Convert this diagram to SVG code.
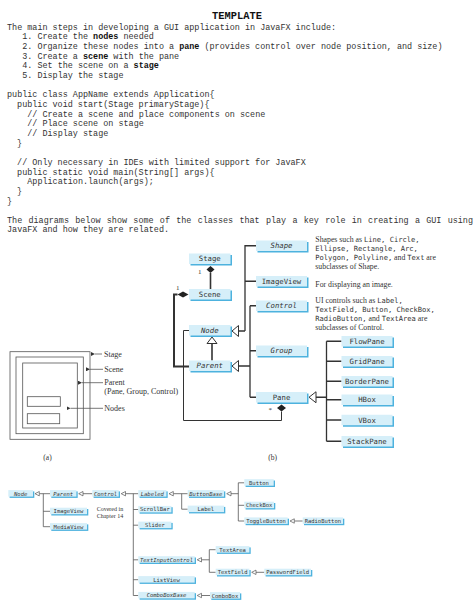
<svg xmlns="http://www.w3.org/2000/svg" width="474" height="613" viewBox="0 0 474 613">
<style>
.code{font-family:"Liberation Mono","Courier New",monospace;font-size:8.45px;fill:#333}
.b{font-weight:bold;fill:#111}
.ser{font-family:"Liberation Serif","Times New Roman",serif;fill:#333}
.mono{font-family:"DejaVu Sans Mono","Liberation Mono",monospace;fill:#333}
.bx{fill:#d6eff9}
.sh{fill:#4db2de}
.lbl{font-family:"DejaVu Sans Mono","Liberation Mono",monospace;font-size:7.3px;fill:#333;text-anchor:middle}
.sl{font-family:"DejaVu Sans Mono","Liberation Mono",monospace;font-size:5.5px;fill:#333;text-anchor:middle}
.it{font-style:italic}
.ln{fill:none;stroke:#333;stroke-width:1.3}
.ln2{fill:none;stroke:#555;stroke-width:0.8}
.tri{fill:#fff;stroke:#333;stroke-width:1}
.tri2{fill:#fff;stroke:#555;stroke-width:0.7}
.fr{fill:none;stroke:#555;stroke-width:0.8}
</style>
<defs>
<marker id="ah" viewBox="0 0 6 6" refX="0" refY="3" markerWidth="4" markerHeight="4" orient="auto-start-reverse" markerUnits="userSpaceOnUse"><path d="M0,3 L6,0 L6,6 Z" fill="#333"/></marker>
</defs>
<rect width="474" height="613" fill="#fff"/>

<!-- Template text -->
<g id="template">
<text x="237" y="19.3" text-anchor="middle" class="code b" style="font-size:10.4px">TEMPLATE</text>
<text x="7" y="29.8" class="code">The main steps in developing a GUI application in JavaFX include:</text>
<text x="22.2" y="39.45" class="code">1. Create the <tspan class="b">nodes</tspan> needed</text>
<text x="22.2" y="49.1" class="code">2. Organize these nodes into a <tspan class="b">pane</tspan> (provides control over node position, and size)</text>
<text x="22.2" y="58.75" class="code">3. Create a <tspan class="b">scene</tspan> with the pane</text>
<text x="22.2" y="68.4" class="code">4. Set the scene on a <tspan class="b">stage</tspan></text>
<text x="22.2" y="78.05" class="code">5. Display the stage</text>
<text x="7" y="97.35" class="code">public class AppName extends Application{</text>
<text x="17.1" y="107" class="code">public void start(Stage primaryStage){</text>
<text x="27.3" y="116.65" class="code">// Create a scene and place components on scene</text>
<text x="27.3" y="126.3" class="code">// Place scene on stage</text>
<text x="27.3" y="135.95" class="code">// Display stage</text>
<text x="17.1" y="145.6" class="code">}</text>
<text x="17.1" y="164.9" class="code">// Only necessary in IDEs with limited support for JavaFX</text>
<text x="17.1" y="174.55" class="code">public static void main(String[] args){</text>
<text x="27.3" y="184.2" class="code">Application.launch(args);</text>
<text x="17.1" y="193.85" class="code">}</text>
<text x="7" y="203.5" class="code">}</text>
<text x="7" y="222.8" class="code" word-spacing="1.2">The diagrams below show some of the classes that play a key role in creating a GUI using</text>
<text x="7" y="232.45" class="code">JavaFX and how they are related.</text>
</g>

<!-- Diagram (a) -->
<g id="diagram-a">
<rect x="10" y="351.7" width="80" height="87.6" class="fr"/>
<rect x="16" y="357" width="67.3" height="76.7" class="fr"/>
<rect x="22.7" y="363" width="54.6" height="65" class="fr"/>
<rect x="27.3" y="396.7" width="33" height="9.6" class="fr"/>
<rect x="27.3" y="413.7" width="32.4" height="10" class="fr"/>
<g class="ln2">
<line x1="102" y1="354" x2="95" y2="354" marker-end="url(#ah)"/>
<line x1="103" y1="369.3" x2="90" y2="369.3" marker-end="url(#ah)"/>
<line x1="103" y1="382.7" x2="82" y2="382.7" marker-end="url(#ah)"/>
<line x1="103" y1="408.3" x2="70.5" y2="408.3" marker-end="url(#ah)"/>
</g>
<text x="104" y="356.6" class="ser" style="font-size:8px">Stage</text>
<text x="104.3" y="371.9" class="ser" style="font-size:8px">Scene</text>
<text x="104.3" y="385.3" class="ser" style="font-size:8px">Parent</text>
<text x="104.3" y="394.3" class="ser" style="font-size:8px">(Pane, Group, Control)</text>
<text x="104.3" y="410.9" class="ser" style="font-size:8px">Nodes</text>
<text x="47.5" y="460" class="ser" style="font-size:7.5px" text-anchor="middle">(a)</text>
</g>

<!-- Diagram (b) connectors -->
<g id="connectors-b">
<path d="M210.5,273 V289" class="ln" style="stroke-width:1.6"/>
<path d="M210.5,266 L214.5,269.5 L210.5,273 L206.5,269.5 Z" fill="#222"/>
<path d="M177.5,294.5 H174 V366.5 H189" class="ln" style="stroke-width:2"/>
<path d="M188.5,294.5 L183,291.5 L177.5,294.5 L183,297.5 Z" fill="#222"/>
<path d="M189,330.5 H183.5 V420.5 H281.5 V411.5" class="ln" style="stroke-width:1"/>
<path d="M281.5,404.5 L286,408 L281.5,411.5 L277,408 Z" fill="#222"/>
<path d="M212,343.5 V360.5" class="ln" style="stroke-width:1.6"/>
<path d="M212,337 L217,343.5 L207,343.5 Z" class="tri"/>
<path d="M238.5,331 H245 M245,331 V245.75 H256 M245,281.25 H256" class="ln"/>
<path d="M232,331 L238.5,325.5 L238.5,336.5 Z" class="tri"/>
<path d="M238.5,366 H250 M250,305.75 V397.25 M250,305.75 H256 M250,350.75 H256 M250,397.25 H256" class="ln"/>
<path d="M232,366 L238.5,360.5 L238.5,371.5 Z" class="tri"/>
<path d="M316,397.25 H326.5 M326.5,341.25 V441.25 M326.5,341.25 H341.5 M326.5,361.25 H341.5 M326.5,381.25 H341.5 M326.5,399.75 H341.5 M326.5,420 H341.5 M326.5,441.25 H341.5" class="ln"/>
<path d="M309,397.25 L316,391.75 L316,402.75 Z" class="tri"/>
</g>
<text x="198" y="274" class="ser" style="font-size:7px">1</text>
<text x="176" y="289.5" class="ser" style="font-size:7px">1</text>
<text x="268.5" y="412" class="ser" style="font-size:7px">*</text>

<!-- Diagram (b) nodes -->
<g id="n-stage"><rect x="190.5" y="255" width="41.5" height="10.5" class="sh"/><rect x="189" y="253.5" width="41.5" height="10.5" class="bx"/><text x="209.75" y="261.3" class="lbl">Stage</text></g>
<g id="n-scene"><rect x="190.5" y="290.5" width="41.5" height="10.5" class="sh"/><rect x="189" y="289" width="41.5" height="10.5" class="bx"/><text x="209.75" y="296.8" class="lbl">Scene</text></g>
<g id="n-node"><rect x="190.5" y="326.5" width="41.5" height="10.5" class="sh"/><rect x="189" y="325" width="41.5" height="10.5" class="bx"/><text x="209.75" y="332.8" class="lbl it">Node</text></g>
<g id="n-parent"><rect x="190.5" y="362" width="41.5" height="10.5" class="sh"/><rect x="189" y="360.5" width="41.5" height="10.5" class="bx"/><text x="209.75" y="368.3" class="lbl it">Parent</text></g>
<g id="n-shape"><rect x="257.5" y="242" width="51" height="10.5" class="sh"/><rect x="256" y="240.5" width="51" height="10.5" class="bx"/><text x="281.5" y="248.3" class="lbl it">Shape</text></g>
<g id="n-imageview"><rect x="257.5" y="277.5" width="51" height="10.5" class="sh"/><rect x="256" y="276" width="51" height="10.5" class="bx"/><text x="281.5" y="283.8" class="lbl">ImageView</text></g>
<g id="n-control"><rect x="257.5" y="302" width="51" height="10.5" class="sh"/><rect x="256" y="300.5" width="51" height="10.5" class="bx"/><text x="281.5" y="308.3" class="lbl it">Control</text></g>
<g id="n-group"><rect x="257.5" y="347" width="51" height="10.5" class="sh"/><rect x="256" y="345.5" width="51" height="10.5" class="bx"/><text x="281.5" y="353.3" class="lbl it">Group</text></g>
<g id="n-pane"><rect x="257.5" y="393.5" width="51" height="10.5" class="sh"/><rect x="256" y="392" width="51" height="10.5" class="bx"/><text x="281.5" y="399.8" class="lbl">Pane</text></g>
<g id="n-flowpane"><rect x="343" y="337.5" width="51" height="10.5" class="sh"/><rect x="341.5" y="336" width="51" height="10.5" class="bx"/><text x="367" y="343.8" class="lbl">FlowPane</text></g>
<g id="n-gridpane"><rect x="343" y="357.5" width="51" height="10.5" class="sh"/><rect x="341.5" y="356" width="51" height="10.5" class="bx"/><text x="367" y="363.8" class="lbl">GridPane</text></g>
<g id="n-borderpane"><rect x="343" y="377.5" width="51" height="10.5" class="sh"/><rect x="341.5" y="376" width="51" height="10.5" class="bx"/><text x="367" y="383.8" class="lbl">BorderPane</text></g>
<g id="n-hbox"><rect x="343" y="396" width="51" height="10.5" class="sh"/><rect x="341.5" y="394.5" width="51" height="10.5" class="bx"/><text x="367" y="402.3" class="lbl">HBox</text></g>
<g id="n-vbox"><rect x="343" y="416.25" width="51" height="10.5" class="sh"/><rect x="341.5" y="414.75" width="51" height="10.5" class="bx"/><text x="367" y="422.55" class="lbl">VBox</text></g>
<g id="n-stackpane"><rect x="343" y="437.5" width="51" height="10.5" class="sh"/><rect x="341.5" y="436" width="51" height="10.5" class="bx"/><text x="367" y="443.8" class="lbl">StackPane</text></g>

<!-- descriptions -->
<g id="desc">
<text x="315.3" y="242" class="ser" style="font-size:7.8px">Shapes such as <tspan class="mono" style="font-size:7.1px">Line, Circle,</tspan></text>
<text x="315.3" y="251" class="mono" style="font-size:7.1px">Ellipse, Rectangle, Arc,</text>
<text x="315.3" y="259.8" class="mono" style="font-size:7.1px">Polygon, Polyline,<tspan class="ser" style="font-size:7.8px"> and </tspan>Text<tspan class="ser" style="font-size:7.8px"> are</tspan></text>
<text x="315.3" y="268.6" class="ser" style="font-size:7.8px">subclasses of Shape.</text>
<text x="315.3" y="286.6" class="ser" style="font-size:7.8px">For displaying an image.</text>
<text x="315.3" y="302.6" class="ser" style="font-size:7.8px">UI controls such as <tspan class="mono" style="font-size:7.1px">Label,</tspan></text>
<text x="315.3" y="311.6" class="mono" style="font-size:7.1px">TextField, Button, CheckBox,</text>
<text x="315.3" y="320.6" class="mono" style="font-size:7.1px">RadioButton,<tspan class="ser" style="font-size:7.8px"> and </tspan>TextArea<tspan class="ser" style="font-size:7.8px"> are</tspan></text>
<text x="315.3" y="329.6" class="ser" style="font-size:7.8px">subclasses of Control.</text>
</g>
<text x="272.7" y="459.5" class="ser" style="font-size:7.5px" text-anchor="middle">(b)</text>

<!-- Diagram (c) connectors -->
<g id="connectors-c">
<path d="M39.3,493.7 H50 M43.3,493.7 V526.7 M43.3,511.3 H50 M43.3,526.7 H50" class="ln2"/>
<path d="M83,493.7 H92.3" class="ln2"/>
<path d="M125.5,493.7 H138.3 M133.3,493.7 V595.5 M133.3,509.5 H138.3 M133.3,525.2 H138.3 M133.3,559.8 H138.3 M133.3,579.7 H138.3 M133.3,595.5 H138.3" class="ln2"/>
<path d="M173.3,493.7 H187.7 M181.7,493.7 V509.2 H187.7" class="ln2"/>
<path d="M231,493.7 H238.3 M238.3,482.8 V521 M238.3,482.8 H244.3 M238.3,505.3 H244.3 M238.3,521 H244.3" class="ln2"/>
<path d="M294.3,521 H302.7" class="ln2"/>
<path d="M201.5,559.8 H209.3 M209.3,549.7 V572.3 M209.3,549.7 H215.7 M209.3,572.3 H215.7" class="ln2"/>
<path d="M256,572.3 H264.3" class="ln2"/>
<path d="M201.5,595.5 H210" class="ln2"/>
<path d="M35,493.7 L39.3,491.5 L39.3,495.9 Z" class="tri2"/>
<path d="M78.7,493.7 L83,491.5 L83,495.9 Z" class="tri2"/>
<path d="M121.2,493.7 L125.5,491.5 L125.5,495.9 Z" class="tri2"/>
<path d="M169,493.7 L173.3,491.5 L173.3,495.9 Z" class="tri2"/>
<path d="M226.7,493.7 L231,491.5 L231,495.9 Z" class="tri2"/>
<path d="M290,521 L294.3,518.8 L294.3,523.2 Z" class="tri2"/>
<path d="M197.2,559.8 L201.5,557.6 L201.5,562 Z" class="tri2"/>
<path d="M251.7,572.3 L256,570.1 L256,574.5 Z" class="tri2"/>
<path d="M197.2,595.5 L201.5,593.3 L201.5,597.7 Z" class="tri2"/>
</g>

<!-- Diagram (c) nodes -->
<g id="c-node"><rect x="9.6" y="491.4" width="24.7" height="6.5" class="sh"/><rect x="8.3" y="490.1" width="24.7" height="6.5" class="bx"/><text x="20.65" y="495.5" class="sl it">Node</text></g>
<g id="c-parent"><rect x="51.3" y="491.4" width="26.4" height="6.5" class="sh"/><rect x="50" y="490.1" width="26.4" height="6.5" class="bx"/><text x="63.2" y="495.5" class="sl it">Parent</text></g>
<g id="c-control"><rect x="93.6" y="491.4" width="26.4" height="6.5" class="sh"/><rect x="92.3" y="490.1" width="26.4" height="6.5" class="bx"/><text x="105.5" y="495.5" class="sl it">Control</text></g>
<g id="c-imageview"><rect x="51.3" y="509" width="37" height="6.5" class="sh"/><rect x="50" y="507.7" width="37" height="6.5" class="bx"/><text x="68.5" y="513.1" class="sl">ImageView</text></g>
<g id="c-mediaview"><rect x="51.3" y="524.4" width="37" height="6.5" class="sh"/><rect x="50" y="523.1" width="37" height="6.5" class="bx"/><text x="68.5" y="528.5" class="sl">MediaView</text></g>
<g id="c-labeled"><rect x="139.6" y="491.4" width="28.1" height="6.5" class="sh"/><rect x="138.3" y="490.1" width="28.1" height="6.5" class="bx"/><text x="152.35" y="495.5" class="sl it">Labeled</text></g>
<g id="c-scrollbar"><rect x="139.6" y="507.2" width="33.1" height="6.5" class="sh"/><rect x="138.3" y="505.9" width="33.1" height="6.5" class="bx"/><text x="154.85" y="511.3" class="sl">ScrollBar</text></g>
<g id="c-slider"><rect x="139.6" y="522.9" width="33.1" height="6.5" class="sh"/><rect x="138.3" y="521.6" width="33.1" height="6.5" class="bx"/><text x="154.85" y="527" class="sl">Slider</text></g>
<g id="c-textinputcontrol"><rect x="139.6" y="557.5" width="56.4" height="6.5" class="sh"/><rect x="138.3" y="556.2" width="56.4" height="6.5" class="bx"/><text x="166.5" y="561.6" class="sl it">TextInputControl</text></g>
<g id="c-listview"><rect x="139.6" y="577.4" width="56.4" height="6.5" class="sh"/><rect x="138.3" y="576.1" width="56.4" height="6.5" class="bx"/><text x="166.5" y="581.5" class="sl">ListView</text></g>
<g id="c-comboboxbase"><rect x="139.6" y="593.2" width="56.4" height="6.5" class="sh"/><rect x="138.3" y="591.9" width="56.4" height="6.5" class="bx"/><text x="166.5" y="597.3" class="sl it">ComboBoxBase</text></g>
<g id="c-buttonbase"><rect x="189" y="491.4" width="36.3" height="6.5" class="sh"/><rect x="187.7" y="490.1" width="36.3" height="6.5" class="bx"/><text x="205.85" y="495.5" class="sl it">ButtonBase</text></g>
<g id="c-label"><rect x="189" y="506.9" width="36.3" height="6.5" class="sh"/><rect x="187.7" y="505.6" width="36.3" height="6.5" class="bx"/><text x="205.85" y="511" class="sl">Label</text></g>
<g id="c-button"><rect x="245.6" y="480.5" width="29.4" height="6.5" class="sh"/><rect x="244.3" y="479.2" width="29.4" height="6.5" class="bx"/><text x="259" y="484.6" class="sl">Button</text></g>
<g id="c-checkbox"><rect x="245.6" y="503" width="29.7" height="6.5" class="sh"/><rect x="244.3" y="501.7" width="29.7" height="6.5" class="bx"/><text x="259.15" y="507.1" class="sl">CheckBox</text></g>
<g id="c-togglebutton"><rect x="245.6" y="518.7" width="43.4" height="6.5" class="sh"/><rect x="244.3" y="517.4" width="43.4" height="6.5" class="bx"/><text x="266" y="522.8" class="sl">ToggleButton</text></g>
<g id="c-radiobutton"><rect x="304" y="518.7" width="40.3" height="6.5" class="sh"/><rect x="302.7" y="517.4" width="40.3" height="6.5" class="bx"/><text x="322.85" y="522.8" class="sl">RadioButton</text></g>
<g id="c-textarea"><rect x="217" y="547.4" width="33.7" height="6.5" class="sh"/><rect x="215.7" y="546.1" width="33.7" height="6.5" class="bx"/><text x="232.55" y="551.5" class="sl">TextArea</text></g>
<g id="c-textfield"><rect x="217" y="570" width="33.7" height="6.5" class="sh"/><rect x="215.7" y="568.7" width="33.7" height="6.5" class="bx"/><text x="232.55" y="574.1" class="sl">TextField</text></g>
<g id="c-passwordfield"><rect x="265.6" y="570" width="46.7" height="6.5" class="sh"/><rect x="264.3" y="568.7" width="46.7" height="6.5" class="bx"/><text x="287.65" y="574.1" class="sl">PasswordField</text></g>
<g id="c-combobox"><rect x="211.3" y="593.4" width="30" height="6.5" class="sh"/><rect x="210" y="592.1" width="30" height="6.5" class="bx"/><text x="225" y="597.5" class="sl">ComboBox</text></g>
<text x="96.7" y="511.2" class="ser" style="font-size:6px">Covered in</text>
<text x="96.7" y="517.6" class="ser" style="font-size:6px">Chapter 14</text>
</svg>
